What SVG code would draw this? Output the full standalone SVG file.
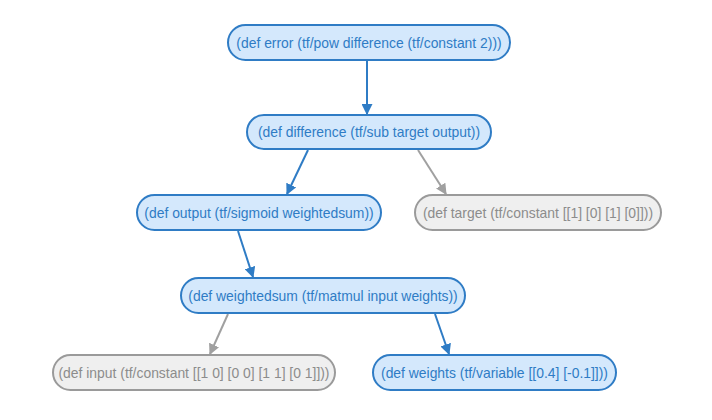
<svg xmlns="http://www.w3.org/2000/svg" width="712" height="420" viewBox="0 0 712 420">
<style>
.b rect{fill:#d4e8fc;stroke:#2f7cc5;stroke-width:2}
.g rect{fill:#efefef;stroke:#9a9a9a;stroke-width:2}
text{font-family:"Liberation Sans",Arial,sans-serif;font-size:13.9px;text-anchor:middle;dominant-baseline:central}
.b text{fill:#2f7cc5}
.g text{fill:#8c8c8c}
.eb{stroke:#2f7cc5;stroke-width:2;fill:none;marker-end:url(#ab)}
.eg{stroke:#a0a0a0;stroke-width:2;fill:none;marker-end:url(#ag)}
</style>
<defs>
<marker id="ab" viewBox="0 0 10 10" refX="9" refY="5" markerWidth="5.5" markerHeight="5.5" markerUnits="strokeWidth" orient="auto"><path d="M0,0 L10,5 L0,10 Z" fill="#2f7cc5"/></marker>
<marker id="ag" viewBox="0 0 10 10" refX="9" refY="5" markerWidth="5.5" markerHeight="5.5" markerUnits="strokeWidth" orient="auto"><path d="M0,0 L10,5 L0,10 Z" fill="#a0a0a0"/></marker>
</defs>
<rect width="712" height="420" fill="#ffffff"/>
<g id="edges">
<line class="eb" x1="367" y1="61" x2="367" y2="114"/>
<line class="eb" x1="308" y1="150" x2="287" y2="194"/>
<line class="eg" x1="418" y1="150" x2="446" y2="194"/>
<line class="eb" x1="238" y1="231" x2="253" y2="277"/>
<line class="eg" x1="228" y1="314" x2="210" y2="354"/>
<line class="eb" x1="435" y1="314" x2="449" y2="354"/>
</g>
<g id="error" class="b"><rect x="228" y="25" width="282" height="35" rx="17.5"/><text x="369" y="42.5">(def error (tf/pow difference (tf/constant 2)))</text></g>
<g id="difference" class="b"><rect x="247" y="115" width="244" height="34" rx="17"/><text x="369" y="132">(def difference (tf/sub target output))</text></g>
<g id="output" class="b"><rect x="137" y="195" width="244" height="35" rx="17.5"/><text x="259" y="212.5">(def output (tf/sigmoid weightedsum))</text></g>
<g id="target" class="g"><rect x="415" y="195" width="246" height="35" rx="17.5"/><text x="538" y="212.5">(def target (tf/constant [[1] [0] [1] [0]]))</text></g>
<g id="weightedsum" class="b"><rect x="181" y="278" width="284" height="35" rx="17.5"/><text x="323" y="295.5">(def weightedsum (tf/matmul input weights))</text></g>
<g id="input" class="g"><rect x="53" y="355" width="282" height="35" rx="17.5"/><text x="194" y="372.5">(def input (tf/constant [[1 0] [0 0] [1 1] [0 1]]))</text></g>
<g id="weights" class="b"><rect x="373" y="355" width="243" height="35" rx="17.5"/><text x="494.5" y="372.5">(def weights (tf/variable [[0.4] [-0.1]]))</text></g>
</svg>
